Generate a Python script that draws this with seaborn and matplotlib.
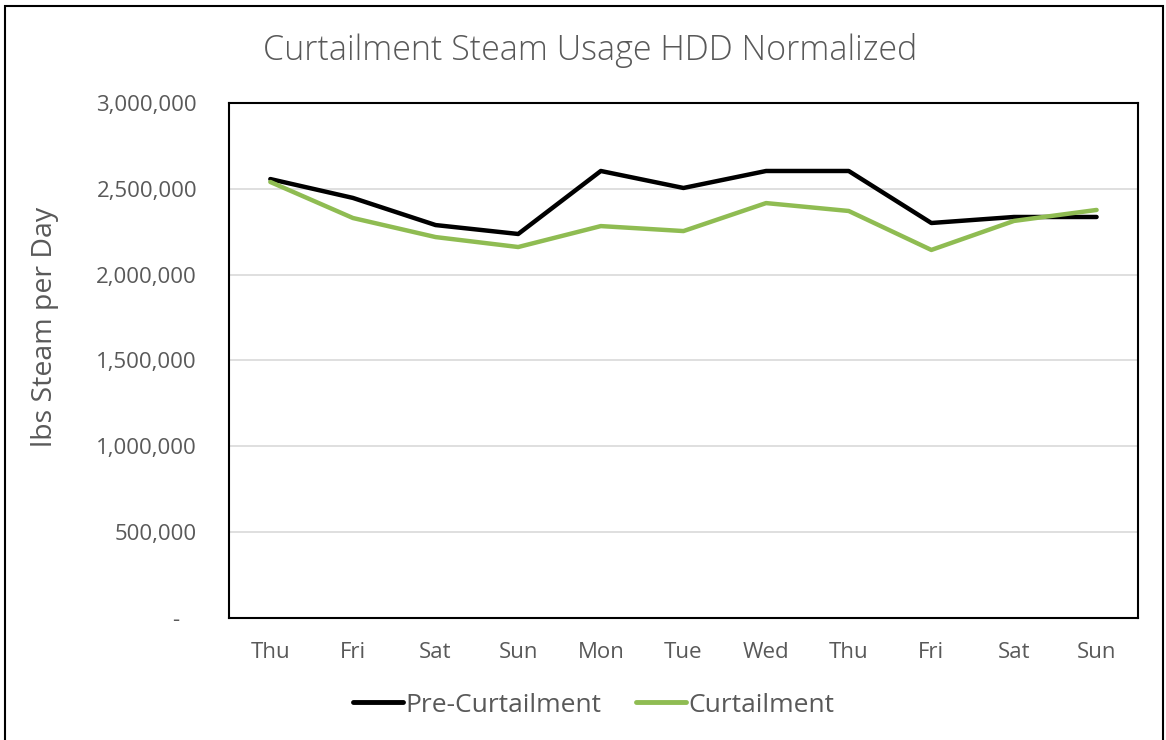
import matplotlib
matplotlib.use("Agg")
import matplotlib.pyplot as plt
import matplotlib.ticker as mticker
from matplotlib.patches import Rectangle
import numpy as np
import pandas as pd
import seaborn as sns

# chart data
days = ["Thu", "Fri", "Sat", "Sun", "Mon", "Tue", "Wed", "Thu", "Fri", "Sat", "Sun"]
pre_curtailment = [2557000, 2447000, 2289000, 2237000, 2604000, 2505000,
                   2604000, 2604000, 2301000, 2336000, 2336000]
curtailment = [2540000, 2330000, 2219000, 2161000, 2283000, 2254000,
               2417000, 2371000, 2144000, 2313000, 2377000]
series_names = ["Pre-Curtailment", "Curtailment"]
y_ticks = [0, 500000, 1000000, 1500000, 2000000, 2500000, 3000000]

df = pd.DataFrame({
    "pos": list(range(len(days))) * 2,
    "value": pre_curtailment + curtailment,
    "series": [series_names[0]] * len(days) + [series_names[1]] * len(days),
})

sns.set_theme(style="white")
plt.rcParams["font.family"] = ["Open Sans", "DejaVu Sans"]

txt = "#595959"
fig = plt.figure(figsize=(11.66, 7.40), dpi=100)
ax = fig.add_axes([0.1964, 0.1649, 0.7795, 0.6959])

sns.lineplot(data=df, x="pos", y="value", hue="series", sort=False,
             palette={"Pre-Curtailment": "#000000", "Curtailment": "#8fbc52"},
             linewidth=3.2, ax=ax, legend=False)

ax.set_xlim(-0.5, len(days) - 0.5)
ax.set_ylim(0, 3000000)
ax.set_xticks(range(len(days)))
ax.set_xticklabels(days)
ax.set_yticks(y_ticks)
ax.yaxis.set_major_formatter(mticker.FuncFormatter(
    lambda v, p: "-   " if v == 0 else f"{int(v):,}"))
ax.grid(axis="y", color="#d9d9d9", linewidth=1.2)
ax.set_axisbelow(True)
ax.tick_params(axis="both", length=0, labelsize=16, labelcolor=txt)
ax.tick_params(axis="y", pad=23)
ax.tick_params(axis="x", pad=17)
for s in ax.spines.values():
    s.set_color("black")
    s.set_linewidth(1.5)

ax.set_xlabel("")
ax.set_ylabel("lbs Steam per Day", fontsize=20.5, color=txt)
ax.yaxis.set_label_coords(-0.187, 0.565)

fig.text(0.506, 0.932, "Curtailment Steam Usage HDD Normalized", ha="center",
         va="center", fontsize=24.5, color=txt, fontweight="light")

handles = [plt.Line2D([], [], color="#000000", linewidth=3.5, solid_capstyle="round"),
           plt.Line2D([], [], color="#8fbc52", linewidth=3.5, solid_capstyle="round")]
leg = fig.legend(handles, series_names, loc="center", bbox_to_anchor=(0.509, 0.047),
                 ncol=2, frameon=False, fontsize=19, handlelength=1.9,
                 handletextpad=0.1, columnspacing=1.3)
for t in leg.get_texts():
    t.set_color(txt)

fig.patches.append(Rectangle((0.004, -0.01), 0.993, 1.002, transform=fig.transFigure,
                             fill=False, edgecolor="black", linewidth=1.5))

fig.savefig("out.png", dpi=100)
